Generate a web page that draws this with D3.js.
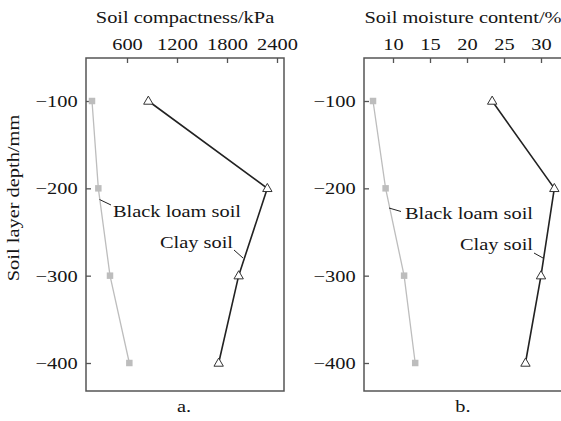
<!DOCTYPE html>
<html><head><meta charset="utf-8">
<script src="https://cdn.jsdelivr.net/npm/d3@7"></script>
<style>body{margin:0;background:#fff}svg{display:block}text{font-family:"Liberation Serif","Times New Roman",serif;fill:#151515}</style>
</head><body><svg id="c" width="561" height="421"></svg>
<script>
const depths = [-100, -200, -300, -400];
const compactBlack = [180, 256, 396, 628];
const compactClay = [856, 2284, 1940, 1700];
const moistBlack = [7.3, 9.0, 11.5, 13.0];
const moistClay = [23.4, 31.8, 30.0, 27.9];
const compactTicks = [600, 1200, 1800, 2400];
const moistTicks = [10, 15, 20, 25, 30];
const depthTicks = [-100, -200, -300, -400];

const FS = 17, SX = 1.2;
const svg = d3.select("#c");
const TOP = 58, BOTTOM = 391;
const yScale = d3.scaleLinear().domain([-100, -400]).range([101, 363]);

function label(g, txt, x, yy, anchor, rot) {
  return g.append("text").text(txt)
    .attr("transform", `translate(${x},${yy})` + (rot ? ` rotate(${rot})` : "") + ` scale(${SX},1)`)
    .attr("text-anchor", anchor || "start").style("font-size", FS + "px");
}

function panel(opt) {
  const g = svg.append("g");
  const x = opt.x, y = yScale;
  g.append("rect").attr("x", opt.left).attr("y", TOP).attr("width", opt.right - opt.left).attr("height", BOTTOM - TOP)
    .attr("fill", "none").attr("stroke", "#555").attr("stroke-width", 1.5);
  const ax = g.append("g").attr("transform", `translate(0,${TOP})`)
    .call(d3.axisTop(x).tickValues(opt.ticks).tickSize(-5).tickPadding(8).tickFormat(d3.format("d")));
  ax.select(".domain").remove();
  ax.selectAll("line").attr("stroke", "#555").attr("stroke-width", 1.3);
  ax.selectAll("text").attr("transform", `scale(${SX},1)`).style("font-size", FS + "px")
    .style("font-family", "Liberation Serif").attr("fill", "#151515");
  const ay = g.append("g").attr("transform", `translate(${opt.left},0)`)
    .call(d3.axisLeft(y).tickValues(depthTicks).tickSize(-5).tickPadding(7).tickFormat(d => "\u2212" + Math.abs(d)));
  ay.select(".domain").remove();
  ay.selectAll("line").attr("stroke", "#555").attr("stroke-width", 1.3);
  ay.selectAll("text").attr("transform", `scale(${SX},1)`).style("font-size", FS + "px")
    .style("font-family", "Liberation Serif").attr("fill", "#151515");

  const line = d3.line().x(d => x(d[0])).y(d => y(d[1]));
  const bl = opt.black.map((v, i) => [v, depths[i]]);
  const cl = opt.clay.map((v, i) => [v, depths[i]]);
  g.append("path").attr("d", line(bl)).attr("fill", "none").attr("stroke", "#bdbdbd").attr("stroke-width", 1.3);
  g.append("path").attr("d", line(cl)).attr("fill", "none").attr("stroke", "#222").attr("stroke-width", 1.6);
  g.selectAll(".sq").data(bl).enter().append("path")
    .attr("d", d3.symbol(d3.symbolSquare, 42)())
    .attr("transform", d => `translate(${x(d[0])},${y(d[1])})`).attr("fill", "#bdbdbd");
  g.selectAll(".tr").data(cl).enter().append("path")
    .attr("d", d3.symbol(d3.symbolTriangle, 38)())
    .attr("transform", d => `translate(${x(d[0])},${y(d[1]) + 0.5})`).attr("fill", "#fff").attr("stroke", "#333").attr("stroke-width", 1);

  const a = opt.ann;
  g.append("line").attr("x1", a.bl[0]).attr("y1", a.bl[1]).attr("x2", a.bl[2]).attr("y2", a.bl[3]).attr("stroke", "#222").attr("stroke-width", 1);
  label(g, "Black loam soil", a.bl[4], a.bl[5], "start");
  g.append("line").attr("x1", a.cl[0]).attr("y1", a.cl[1]).attr("x2", a.cl[2]).attr("y2", a.cl[3]).attr("stroke", "#222").attr("stroke-width", 1);
  label(g, "Clay soil", a.cl[4], a.cl[5], "end");

  label(g, opt.title, opt.titleX, 23, "middle");
  label(g, opt.sub, opt.subX, 412, "middle");
}

panel({
  left: 86, right: 284,
  x: d3.scaleLinear().domain([600, 2400]).range([127, 277]),
  ticks: compactTicks, black: compactBlack, clay: compactClay,
  title: "Soil compactness/kPa", titleX: 185, sub: "a.", subX: 184,
  ann: { bl: [99.5, 199.5, 111, 205, 113, 217], cl: [234, 250, 243, 258, 233, 248] }
});
panel({
  left: 364, right: 580,
  x: d3.scaleLinear().domain([10, 30]).range([393, 541]),
  ticks: moistTicks, black: moistBlack, clay: moistClay,
  title: "Soil moisture content/%", titleX: 463, sub: "b.", subX: 463,
  ann: { bl: [389, 208, 401, 211.5, 405, 219], cl: [534, 253, 543, 258, 533, 250] }
});
label(svg, "Soil layer depth/mm", 19, 198, "middle", -90);
</script></body></html>
